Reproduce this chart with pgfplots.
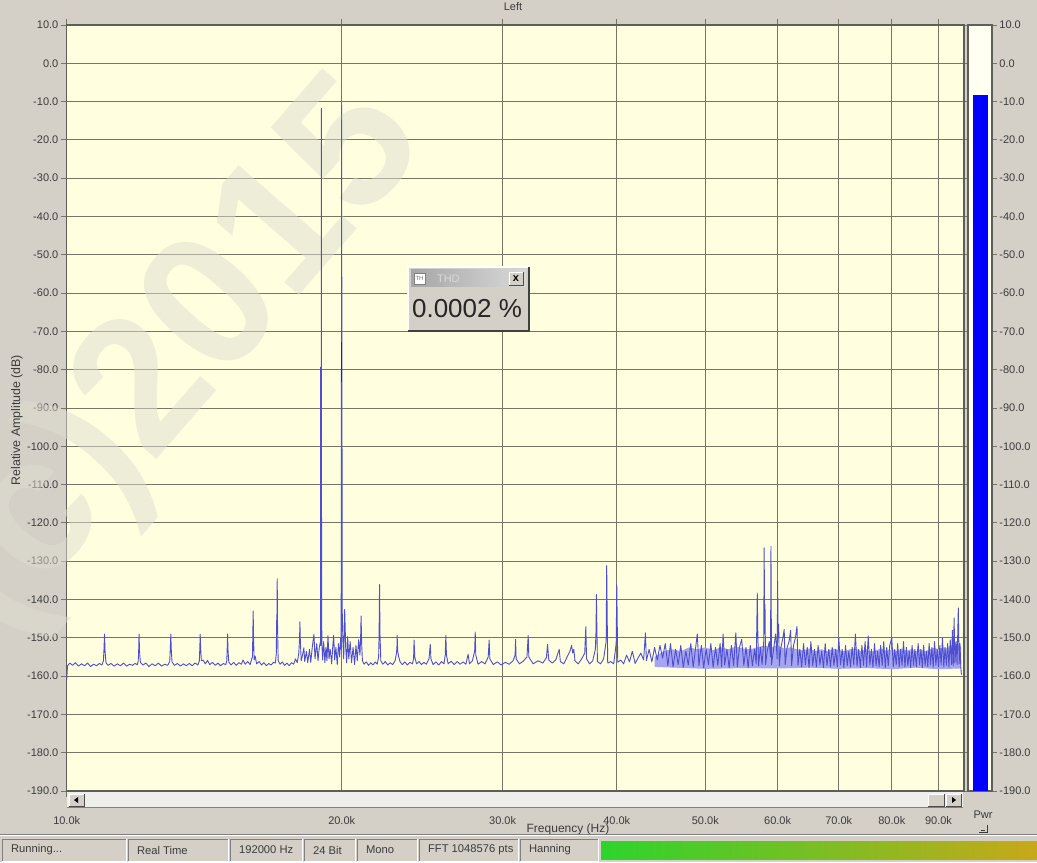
\documentclass[border=0pt]{standalone}
\usepackage{fontspec}
\setmainfont{Liberation Sans}
\usepackage{pgfplots}
\pgfplotsset{compat=1.18}
\definecolor{winbg}{RGB}{212,208,200}
\definecolor{plotbg}{RGB}{255,255,224}
\definecolor{gridc}{RGB}{118,118,100}
\definecolor{framec}{RGB}{95,95,90}
\definecolor{trace}{RGB}{78,78,208}
\definecolor{tracedk}{RGB}{35,35,150}
\definecolor{band}{RGB}{165,165,240}
\definecolor{txt}{RGB}{60,60,60}
\definecolor{wm}{RGB}{222,221,208}
\definecolor{meterbg}{RGB}{255,255,242}
\definecolor{scrollc}{RGB}{238,238,234}
\definecolor{pandark}{RGB}{128,128,128}
\definecolor{gA}{RGB}{45,212,45}
\definecolor{gB}{RGB}{120,200,30}
\definecolor{gC}{RGB}{200,168,25}

\begin{document}
\begin{tikzpicture}[font=\fontsize{5.5}{6.5}\selectfont]
\useasboundingbox (0,0) rectangle (518.5pt,431pt);
\fill[winbg] (0,0) rectangle (518.5pt,431pt);

% ---------- main axis: background, grid, labels ----------
\begin{axis}[
  at={(33.35pt,35.5pt)}, anchor=south west,
  width=448.7pt, height=383pt, scale only axis,
  xmode=log, xmin=10, xmax=96, ymin=-190, ymax=10,
  axis background/.style={fill=plotbg},
  xtick={10,20,30,40,50,60,70,80,90},
  xticklabels={10.0k,20.0k,30.0k,40.0k,50.0k,60.0k,70.0k,80.0k,90.0k},
  ytick={-190,-180,...,10},
  yticklabels={-190.0,-180.0,-170.0,-160.0,-150.0,-140.0,-130.0,-120.0,-110.0,-100.0,-90.0,-80.0,-70.0,-60.0,-50.0,-40.0,-30.0,-20.0,-10.0,0.0,10.0},
  grid=major, major grid style={draw=gridc, line width=0.45pt},
  tick align=outside, major tick length=3pt,
  tick style={draw=gridc, line width=0.45pt},
  axis line style={draw=framec, line width=0.7pt},
  tick label style={font=\fontsize{5.5}{6.5}\selectfont, text=txt},
  xticklabel style={yshift=-6.2pt},
  yticklabel style={inner sep=1pt},
]
\end{axis}

% ---------- pixel scope: scrollbar, watermark ----------
\begin{scope}[x=0.5pt,y=-0.5pt,yshift=431pt]
  \fill[scrollc] (67,791.5) rectangle (963,807.5);
  \draw[pandark,line width=0.4pt] (67,807.5)--(963,807.5);
  \fill[winbg] (69,794) rectangle (84,806);
  \draw[white,line width=0.4pt] (69,806)--(69,794)--(84,794);
  \draw[black!70,line width=0.4pt] (84,794)--(84,806)--(69,806);
  \fill[black] (74,800)--(78,797)--(78,803)--cycle;
  \fill[winbg] (928,794) rectangle (944,806);
  \draw[white,line width=0.4pt] (928,806)--(928,794)--(944,794);
  \draw[black!70,line width=0.4pt] (944,794)--(944,806)--(928,806);
  \fill[winbg] (946,794) rectangle (961,806);
  \draw[white,line width=0.4pt] (946,806)--(946,794)--(961,794);
  \draw[black!70,line width=0.4pt] (961,794)--(961,806)--(946,806);
  \fill[black] (956,800)--(952,797)--(952,803)--cycle;
  % watermark
  \node[rotate=49, text=wm, opacity=0.5, font=\fontsize{95}{95}\selectfont\bfseries] at (178,360) {(c)2015};
\end{scope}

% ---------- trace axis ----------
\begin{axis}[
  at={(33.35pt,35.5pt)}, anchor=south west,
  width=448.7pt, height=383pt, scale only axis,
  xmode=log, xmin=10, xmax=96, ymin=-190, ymax=10,
  hide axis, clip=true,
]
\addplot[fill=band, draw=none] coordinates {
(44,-155) (45,-153.5) (46,-153) (47,-153.5) (48,-152.5) (49,-153) (50,-152.5) (51,-153.2) (52,-152.5) (53,-153) (54,-152.3) (55,-152.8) (56,-153) (57,-152.5) (58,-152) (59,-152.5) (60,-152) (61,-152.8) (62,-152.5) (63,-153) (64,-153.3) (65,-152.8) (66,-153.5) (67,-153) (68,-153.5) (69,-152.8) (70,-153.2) (71,-153.5) (72,-153) (73,-152.8) (74,-153.5) (75,-153) (76,-153.6) (77,-153.2) (78,-152.8) (79,-153.4) (80,-153) (81,-153.5) (82,-152.8) (83,-153.4) (84,-153) (85,-153.5) (86,-153) (87,-153.6) (88,-153) (89,-152.6) (90,-153) (91,-152.5) (92,-152.8) (93,-152) (94,-151.5) (95.3,-152.5)
(95.3,-158) (90,-158.2) (85,-157.8) (80,-158.2) (75,-157.9) (70,-158.1) (65,-157.8) (60,-158) (55,-157.9) (50,-158.1) (44,-157.6)
} -- cycle;
\addplot[draw=trace, line width=0.45pt, line join=round] coordinates {
(10.0,-161) (10.02,-157.3) (10.08,-156.6) (10.15,-157.2) (10.22,-156.5) (10.3,-157.4) (10.38,-156.8) (10.46,-157.3) (10.54,-156.6) (10.62,-157.5) (10.7,-156.9) (10.78,-157.3) (10.86,-156.7) (10.93,-157.1) (10.97,-156) (10.985,-153) (11.0,-149) (11.015,-153.5) (11.04,-156.5)
(11.1,-157.2) (11.18,-156.7) (11.27,-157.4) (11.36,-156.8) (11.45,-157.3) (11.54,-156.6) (11.63,-157.4) (11.72,-156.9) (11.8,-157.2) (11.88,-156.7) (11.95,-157) (11.975,-156) (11.99,-153) (12.0,-149) (12.015,-153.5) (12.04,-156.4)
(12.12,-157.1) (12.21,-156.6) (12.3,-157.5) (12.4,-156.8) (12.5,-157.3) (12.6,-156.6) (12.7,-157.4) (12.8,-156.9) (12.9,-157.2) (12.965,-156.2) (12.985,-152.5) (13.0,-149) (13.015,-153) (13.04,-156.3)
(13.12,-157.2) (13.22,-156.7) (13.32,-157.4) (13.42,-156.8) (13.52,-157.3) (13.62,-156.7) (13.72,-157.3) (13.82,-156.6) (13.92,-157.1) (13.97,-156) (13.985,-153) (14.0,-149) (14.015,-152.5) (14.04,-156)
(14.1,-155.8) (14.18,-156.8) (14.26,-155.9) (14.34,-157) (14.44,-156.4) (14.54,-157.2) (14.64,-156.6) (14.74,-157.3) (14.84,-156.7) (14.93,-157) (14.97,-156) (14.985,-153) (15.0,-149) (15.015,-153) (15.045,-156.3)
(15.13,-157.1) (15.23,-156.4) (15.33,-157.2) (15.43,-156.5) (15.53,-156.9) (15.6,-155.8) (15.68,-156.9) (15.78,-156.2) (15.88,-157) (15.94,-155.5) (15.97,-155) (15.985,-149.5) (16.0,-143) (16.015,-150) (16.04,-155.8)
(16.08,-154.8) (16.14,-156.8) (16.24,-156.2) (16.34,-157.1) (16.44,-156.5) (16.54,-157.3) (16.64,-156.7) (16.74,-157.1) (16.84,-156.4) (16.92,-156.6) (16.96,-154) (16.975,-145.5) (16.985,-146) (17.0,-134.6) (17.015,-147) (17.04,-156)
(17.12,-156.9) (17.22,-156.3) (17.32,-157.2) (17.42,-156.6) (17.52,-157.3) (17.62,-156.5) (17.72,-156.9) (17.8,-155.5) (17.88,-156.5) (17.95,-154) (17.985,-150) (18.0,-145.8) (18.02,-151) (18.06,-156)
(18.12,-154.5) (18.18,-152.6) (18.22,-156.2) (18.3,-153.5) (18.36,-156.5) (18.44,-153) (18.5,-156.4) (18.58,-152) (18.65,-149.1) (18.7,-155.5) (18.78,-151.5) (18.84,-156) (18.9,-152.5) (18.96,-151) (18.975,-152)
(18.985,-79.2) (18.995,-79.2) (19.0,-11.8) (19.01,-140) (19.025,-151.5)
(19.06,-155.8) (19.11,-151) (19.17,-156.5) (19.22,-152.5) (19.27,-156) (19.32,-149.4) (19.37,-155.5) (19.43,-153) (19.5,-156.8) (19.56,-152) (19.6,-149.4) (19.65,-155.8) (19.71,-152.5) (19.78,-157) (19.84,-151.5) (19.9,-155) (19.95,-150) (19.975,-153)
(19.985,-83.1) (19.995,-72.7) (20.0,-10.9) (20.005,-72.7) (20.012,-83.1) (20.025,-143)
(20.06,-151) (20.1,-155.5) (20.15,-142.6) (20.2,-152.5) (20.25,-156.5) (20.3,-149.7) (20.36,-155.5) (20.43,-151) (20.5,-156.5) (20.58,-152.5) (20.66,-157) (20.73,-152) (20.8,-156) (20.87,-150.5) (20.94,-154.5) (20.975,-150) (21.0,-144.3) (21.03,-151.5) (21.07,-156)
(21.16,-156.9) (21.28,-156.3) (21.4,-157.2) (21.52,-156.5) (21.64,-157.1) (21.76,-156.3) (21.87,-156.9) (21.95,-155) (21.975,-149) (22.0,-136.1) (22.025,-149) (22.07,-156)
(22.18,-156.9) (22.32,-156.2) (22.46,-157.1) (22.6,-156.5) (22.74,-157) (22.88,-156) (22.96,-154) (22.985,-152.5) (23.0,-149.4) (23.03,-153.5) (23.09,-155)
(23.17,-156.3) (23.3,-157) (23.45,-156.3) (23.6,-157.1) (23.75,-156.4) (23.9,-156.8) (23.97,-155.5) (24.0,-150.6) (24.04,-155)
(24.15,-156.8) (24.3,-156.2) (24.45,-157) (24.6,-156.4) (24.75,-156.9) (24.92,-155.5) (25.0,-151.7) (25.04,-155.5)
(25.18,-157) (25.36,-156.3) (25.54,-157.1) (25.72,-156.2) (25.88,-156.8) (25.96,-154.5) (26.0,-149.4) (26.04,-154.5)
(26.15,-156.8) (26.35,-156.1) (26.55,-157) (26.75,-156.2) (26.95,-156.9) (27.15,-156.3) (27.35,-156.9) (27.5,-154.3) (27.6,-156.8) (27.8,-156) (27.96,-153.5) (28.0,-148.5) (28.04,-154.5)
(28.2,-156.9) (28.45,-156.2) (28.7,-156.8) (28.93,-155) (29.0,-150.6) (29.05,-155.5)
(29.3,-157) (29.6,-156.3) (29.9,-157.1) (30.2,-156.4) (30.5,-156.9) (30.8,-156) (30.96,-154.5) (31.0,-150.4) (31.04,-155.5)
(31.3,-156.8) (31.6,-156.1) (31.9,-155) (32.0,-149.4) (32.05,-155)
(32.4,-156.8) (32.8,-156) (33.2,-156.6) (33.5,-155.2) (33.6,-151.7) (33.7,-155.8) (34.0,-156.6) (34.3,-155.8) (34.6,-153) (34.7,-156.2)
(35.0,-156.8) (35.3,-155) (35.55,-153.5) (35.7,-152) (35.8,-154) (35.9,-153) (36.0,-156) (36.3,-156.8) (36.6,-155.6) (36.9,-154) (37.0,-147.1) (37.07,-155.5)
(37.35,-156.8) (37.65,-156) (37.9,-153) (37.97,-148.3) (38.0,-138.7) (38.05,-148) (38.1,-156.2)
(38.4,-156.8) (38.7,-155.5) (38.95,-151) (39.0,-131.1) (39.05,-144.5) (39.1,-156.6)
(39.4,-156.2) (39.7,-156.8) (39.95,-151.5) (40.0,-136.1) (40.05,-146.5) (40.1,-156.4)
(40.4,-155.8) (40.7,-156.8) (41.0,-154.5) (41.3,-156.3) (41.6,-153.5) (41.9,-156.7) (42.2,-155.3) (42.5,-154) (42.8,-155.8) (43.0,-148.7) (43.1,-156)
(43.4,-153) (43.7,-156.3) (44.0,-152.5) (44.3,-155.8) (44.6,-152) (44.9,-155.3) (45.2,-151.5)
(45.5,-157.3) (45.8,-151.5) (46.1,-157.6) (46.4,-153) (46.7,-157) (47.0,-152) (47.3,-157.7) (47.6,-153.5) (47.9,-157.1) (48.2,-151.5) (48.5,-157.6) (48.8,-152.5) (49.0,-149) (49.2,-157.3) (49.5,-152) (49.8,-157.8)
(50.1,-153) (50.4,-157) (50.7,-151.5) (51.0,-157.7) (51.3,-152.5) (51.6,-157.2) (51.9,-151.5) (52.1,-157.6) (52.3,-149) (52.5,-157.1) (52.8,-153) (53.1,-157.8) (53.4,-152) (53.7,-157.3) (54.0,-148.7) (54.2,-157.6) (54.5,-152.5) (54.8,-150.4)
(55.1,-157.2) (55.4,-152.5) (55.7,-157.8) (56.0,-152) (56.3,-157.3) (56.6,-153) (56.85,-156.8) (57.0,-138.3) (57.08,-149) (57.18,-157.3) (57.45,-152.5) (57.7,-157) (57.93,-151)
(58.0,-126.5) (58.06,-149) (58.12,-141.3) (58.2,-157) (58.45,-153.5) (58.75,-151) (58.93,-155) (59.0,-126.1) (59.08,-157) (59.35,-153.5) (59.7,-149) (59.93,-155.5)
(60.0,-135.2) (60.08,-150) (60.16,-146.5) (60.25,-157.3) (60.5,-152.5) (60.8,-150) (61.0,-147.8) (61.15,-157) (61.45,-152.5) (61.75,-151) (62.0,-148) (62.15,-157.3) (62.45,-152) (62.75,-150) (63.0,-147) (63.15,-157.2)
(63.45,-153) (63.75,-157.6) (64.05,-151.5) (64.35,-157.1) (64.65,-152.5) (64.95,-157.8) (65.25,-151) (65.55,-157.3) (65.85,-153) (66.15,-157.6) (66.45,-152) (66.75,-157) (67.05,-153.5) (67.35,-157.8) (67.65,-151.5) (67.95,-157.3)
(68.25,-153) (68.55,-157.6) (68.85,-152.5) (69.15,-157.2) (69.45,-153) (69.75,-157.6) (70.0,-150) (70.3,-157.1) (70.6,-153) (70.9,-157.8) (71.2,-152) (71.5,-157.3) (71.8,-153.5) (72.1,-157.6) (72.4,-152.5) (72.7,-157.1)
(73.0,-149) (73.3,-157.4) (73.6,-153) (73.9,-157.8) (74.2,-152) (74.5,-157.2) (74.8,-151) (75.1,-157.6) (75.4,-149.5) (75.7,-157.1) (76.0,-153) (76.3,-157.7) (76.6,-151.5) (76.9,-157.3) (77.2,-153.5) (77.5,-157.6)
(77.8,-152) (78.1,-157.2) (78.4,-151) (78.7,-157.8) (79.0,-152.5) (79.3,-157.3) (79.6,-152) (80.0,-150) (80.3,-157.6) (80.6,-153) (80.9,-157.1) (81.2,-151.5) (81.5,-157.7) (81.8,-153) (82.1,-157.2) (82.4,-151)
(82.7,-157.6) (83.0,-152.5) (83.3,-157.3) (83.6,-153.5) (83.9,-157.8) (84.2,-152) (84.5,-157.2) (84.8,-153) (85.1,-157.6) (85.5,-151.5) (85.8,-157.1) (86.1,-153) (86.4,-157.8) (86.7,-152) (87.0,-157.3) (87.3,-153.5)
(87.6,-157.6) (87.9,-151.5) (88.2,-157.1) (88.5,-152.5) (88.8,-157.7) (89.1,-151) (89.4,-157.2) (89.7,-153) (90.0,-157.6) (90.3,-152) (90.6,-157.1) (90.9,-150) (91.2,-157.6) (91.5,-152.5) (91.8,-157.2) (92.1,-151.5)
(92.4,-157.7) (92.7,-150.5) (93.0,-157) (93.2,-148) (93.4,-157.3) (93.6,-144.8) (93.8,-156.6) (94.1,-151) (94.3,-157) (94.6,-142.2) (94.8,-156.8) (95.0,-151.5) (95.2,-157.8) (95.35,-159.6)
};
\addplot[draw=tracedk, line width=0.7pt] coordinates {(20.0,-72.7) (20.0,-83.1)};
\addplot[draw=trace, line width=0.8pt] coordinates {(18.99,-79.2) (18.99,-152)};
\end{axis}

% ---------- power meter axis ----------
\begin{axis}[
  at={(484pt,35.5pt)}, anchor=south west,
  width=12pt, height=383pt, scale only axis,
  xmin=0, xmax=1, ymin=-190, ymax=10,
  xtick=\empty,
  ytick={-190,-180,...,10},
  yticklabels={-190.0,-180.0,-170.0,-160.0,-150.0,-140.0,-130.0,-120.0,-110.0,-100.0,-90.0,-80.0,-70.0,-60.0,-50.0,-40.0,-30.0,-20.0,-10.0,0.0,10.0},
  ytick pos=right, yticklabel pos=right,
  tick align=outside, major tick length=2.5pt,
  tick style={draw=gridc, line width=0.45pt},
  axis background/.style={fill=meterbg},
  axis line style={draw=framec, line width=0.6pt},
  tick label style={font=\fontsize{5.5}{6.5}\selectfont, text=txt},
  yticklabel style={inner sep=1pt},
]
\addplot[fill=blue, draw=none] coordinates {(0.2,-190) (0.2,-8.3) (0.83,-8.3) (0.83,-190)} -- cycle;
\end{axis}

% ---------- pixel scope: texts, popup, status bar ----------
\begin{scope}[x=0.5pt,y=-0.5pt,yshift=431pt]
  \node[text=txt] at (513,7) {Left};
  \node[text=txt, rotate=90, font=\fontsize{6.2}{7}\selectfont] at (17,420) {Relative Amplitude (dB)};
  \node[text=txt, font=\fontsize{6}{7}\selectfont] at (568,829) {Frequency (Hz)};
  \node[text=txt] at (983,815) {Pwr};
  \draw[txt,line width=0.4pt] (979,832)--(987,832)--(987,825);
  \draw[txt,line width=0.4pt] (981,830)--(985,830);

  % THD popup
  \fill[winbg] (408,267) rectangle (529,331);
  \draw[white,line width=0.6pt] (408,331)--(408,267)--(529,267);
  \draw[black!75,line width=0.7pt] (529,267)--(529,331)--(408,331);
  \shade[left color=black!35, right color=black!15] (411,270) rectangle (526,287);
  \fill[white] (414,273) rectangle (425,284);
  \draw[black!50,line width=0.4pt] (414,273) rectangle (425,284);
  \node[text=black!55, font=\fontsize{3}{3}\selectfont] at (419.5,278.5) {TH};
  \node[text=white!85!black, anchor=west] at (430,278.5) {THD};
  \fill[winbg] (509,272) rectangle (523,285);
  \draw[white,line width=0.4pt] (509,285)--(509,272)--(523,272);
  \draw[black!70,line width=0.4pt] (523,272)--(523,285)--(509,285);
  \node[text=black, font=\fontsize{5.5}{6}\selectfont\bfseries] at (516,278.3) {x};
  \node[text=black!85, font=\fontsize{13}{14}\selectfont] at (467,309) {0.0002 \%};

  % status bar
  \draw[pandark,line width=0.5pt] (0,834)--(1037,834);
  \draw[white,line width=0.5pt] (0,835.5)--(1037,835.5);
  \foreach \a/\b/\t in {2/126/{Running...},128/228/{Real Time},230/302/{192000 Hz},304/355/{24 Bit},357/417/{Mono},419/518/{FFT 1048576 pts},520/598/{Hanning}} {
    \draw[pandark,line width=0.5pt] (\a,861)--(\a,839)--(\b,839);
    \draw[white,line width=0.5pt] (\b,839)--(\b,861)--(\a,861);
    \node[text=txt, anchor=west, font=\fontsize{5.6}{6.5}\selectfont] at (\a+2,850) {\t};
  }
  \shade[left color=gA, middle color=gB, right color=gC] (601,841) rectangle (1037,859);
\end{scope}
\end{tikzpicture}
\end{document}
